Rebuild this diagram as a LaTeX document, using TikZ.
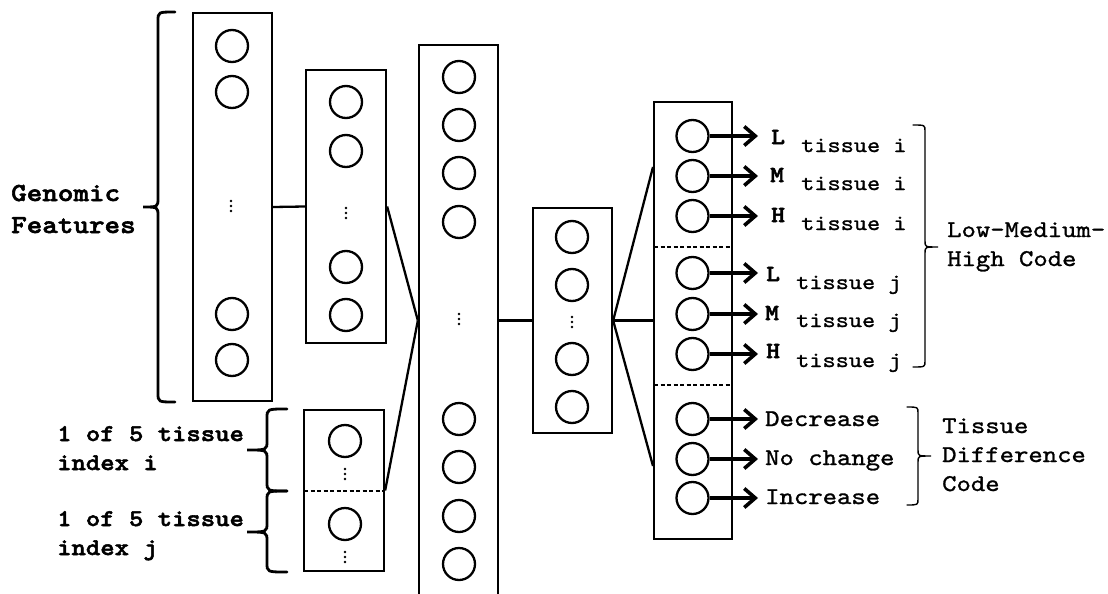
\documentclass[tikz,border=0pt]{standalone}
\usepackage{fontspec}
\usetikzlibrary{arrows.meta}
\newfontfamily\monob[FakeStretch=1.14,FakeBold=2.2]{lmmonolt10-bold.otf}
\newfontfamily\monor[FakeStretch=1.14,FakeBold=1.2]{lmmono10-regular.otf}

% brace: style, end x, spine x, tip x, top y, tip y, bottom y, curl
\newcommand\drawbrace[8]{%
  \draw[#1] (#2,#5) .. controls (#3,#5) .. (#3,#5+#8) -- (#3,#6-#8)
    .. controls (#3,#6) .. (#4,#6) .. controls (#3,#6) .. (#3,#6+#8)
    -- (#3,#7-#8) .. controls (#3,#7) .. (#2,#7);}

\begin{document}
\begin{tikzpicture}[x=1pt,y=-1pt,
  layer/.style={draw, rectangle, line width=2.3pt, inner sep=0pt},
  unit/.style={draw, circle, line width=2.3pt, minimum size=32pt, inner sep=0pt},
  conn/.style={line width=2.3pt},
  sep/.style={line width=1.3pt, dash pattern=on 4pt off 2.5pt},
  outarr/.style={line width=3.6pt, -{Straight Barb[length=11pt,width=19pt]}},
  lbrace/.style={line width=2.8pt, line cap=round},
  rbrace/.style={line width=1.4pt, line cap=round},
  lab/.style={inner sep=0pt, anchor=base west},
  bigb/.style={lab, font=\monob\fontsize{26}{32}\selectfont},
  inb/.style={lab, font=\monob\fontsize{24}{29}\selectfont},
  code/.style={lab, font=\monob\fontsize{23}{28}\selectfont},
  sub/.style={lab, font=\monor\fontsize{22}{26}\selectfont},
  txt/.style={lab, font=\monor\fontsize{24}{29}\selectfont},
  vdots/.pic={\foreach \k in {-5,0,5} \fill (0,\k) circle (1.3pt);}
]
\useasboundingbox (0,0) rectangle (1108,594);
\clip (0,0) rectangle (1108,594);

% layers
\node[layer, minimum width=79pt, minimum height=388pt] (A) at (232.5,207) {};
\node[layer, minimum width=80pt, minimum height=273pt] (B) at (346,206.5) {};
\node[layer, minimum width=80pt, minimum height=161pt] (C) at (344,490.5) {};
\node[layer, minimum width=79pt, minimum height=551pt] (D) at (458.5,320.5) {};
\node[layer, minimum width=79pt, minimum height=225pt] (E) at (572.5,320.5) {};
\node[layer, minimum width=78pt, minimum height=437pt] (F) at (693,320.5) {};

% units
\foreach \n/\yy in {1/46,2/92,3/314,4/360} \node[unit] (a\n) at (232,\yy) {};
\pic at (231,206) {vdots};
\foreach \n/\yy in {1/102,2/151,3/267,4/315} \node[unit] (b\n) at (346,\yy) {};
\pic at (346,213) {vdots};
\node[unit] (c1) at (345,441) {};
\node[unit] (c2) at (345,524) {};
\pic at (345,474) {vdots};
\pic at (345,557) {vdots};
\draw[sep] (304,491) -- (384,491);
\foreach \n/\yy in {1/77,2/125,3/173,4/222,5/419,6/467,7/516,8/564}
  \node[unit] (d\n) at (459,\yy) {};
\pic at (459,319) {vdots};
\foreach \n/\yy in {1/237,2/285,3/359,4/407} \node[unit] (e\n) at (572,\yy) {};
\pic at (572,322) {vdots};
\draw[sep] (654,247) -- (732,247);
\draw[sep] (654,385) -- (732,385);

% connections between layers
\draw[conn] (A.east) -- (B.west);
\draw[conn] (B.east) -- (D.west);
\draw[conn] (C.east) -- (D.west);
\draw[conn] (D.east) -- (E.west);
\coordinate (fin1) at (653,167);
\coordinate (fin3) at (653,466);
\draw[conn] (E.east) -- (fin1);
\draw[conn] (E.east) -- (F.west);
\draw[conn] (E.east) -- (fin3);

% output units and arrows
\foreach \n/\yy in {1/136,2/176,3/216,4/273,5/314,6/354,7/419,8/459,9/498} {
  \node[unit] (f\n) at (692.5,\yy) {};
  \coordinate (ft\n) at (758,\yy);
  \draw[outarr] (f\n) -- (ft\n);
}

% input labels
\drawbrace{lbrace}{175}{158}{143}{12}{207}{402}{9}
\node[bigb] (g1) at (11,201) {Genomic};
\node[bigb] (g2) at (11,233) {Features};
\drawbrace{lbrace}{287}{267}{247}{409}{450}{491}{9}
\drawbrace{lbrace}{287}{267}{247}{491}{532}{572}{9}
\node[inb] (ti1) at (57,441) {1 of 5 tissue};
\node[inb] (ti2) at (57,470) {index i};
\node[inb] (tj1) at (57,526) {1 of 5 tissue};
\node[inb] (tj2) at (57,555) {index j};

% output labels
\node[code] (l1) at (771,144) {L};
\node[sub]  (s1) at (801,152) {tissue i};
\node[code] (l2) at (770,182) {M};
\node[sub]  (s2) at (801,190) {tissue i};
\node[code] (l3) at (771,222) {H};
\node[sub]  (s3) at (801,230) {tissue i};
\node[code] (l4) at (766,281) {L};
\node[sub]  (s4) at (796,289) {tissue j};
\node[code] (l5) at (765,320) {M};
\node[sub]  (s5) at (796,327) {tissue j};
\node[code] (l6) at (766,358) {H};
\node[sub]  (s6) at (796,367) {tissue j};
\node[txt] (o1) at (765,426) {Decrease};
\node[txt] (o2) at (765,465) {No change};
\node[txt] (o3) at (765,504) {Increase};

\drawbrace{rbrace}{913}{925}{938}{125}{247}{367}{6}
\node[txt] (lmh1) at (947,237) {Low-Medium-};
\node[txt] (lmh2) at (947,266) {High Code};
\drawbrace{rbrace}{907}{918}{931}{407}{456}{505}{6}
\node[txt] (tdc1) at (942,433) {Tissue};
\node[txt] (tdc2) at (942,462) {Difference};
\node[txt] (tdc3) at (942,491) {Code};
\end{tikzpicture}
\end{document}
